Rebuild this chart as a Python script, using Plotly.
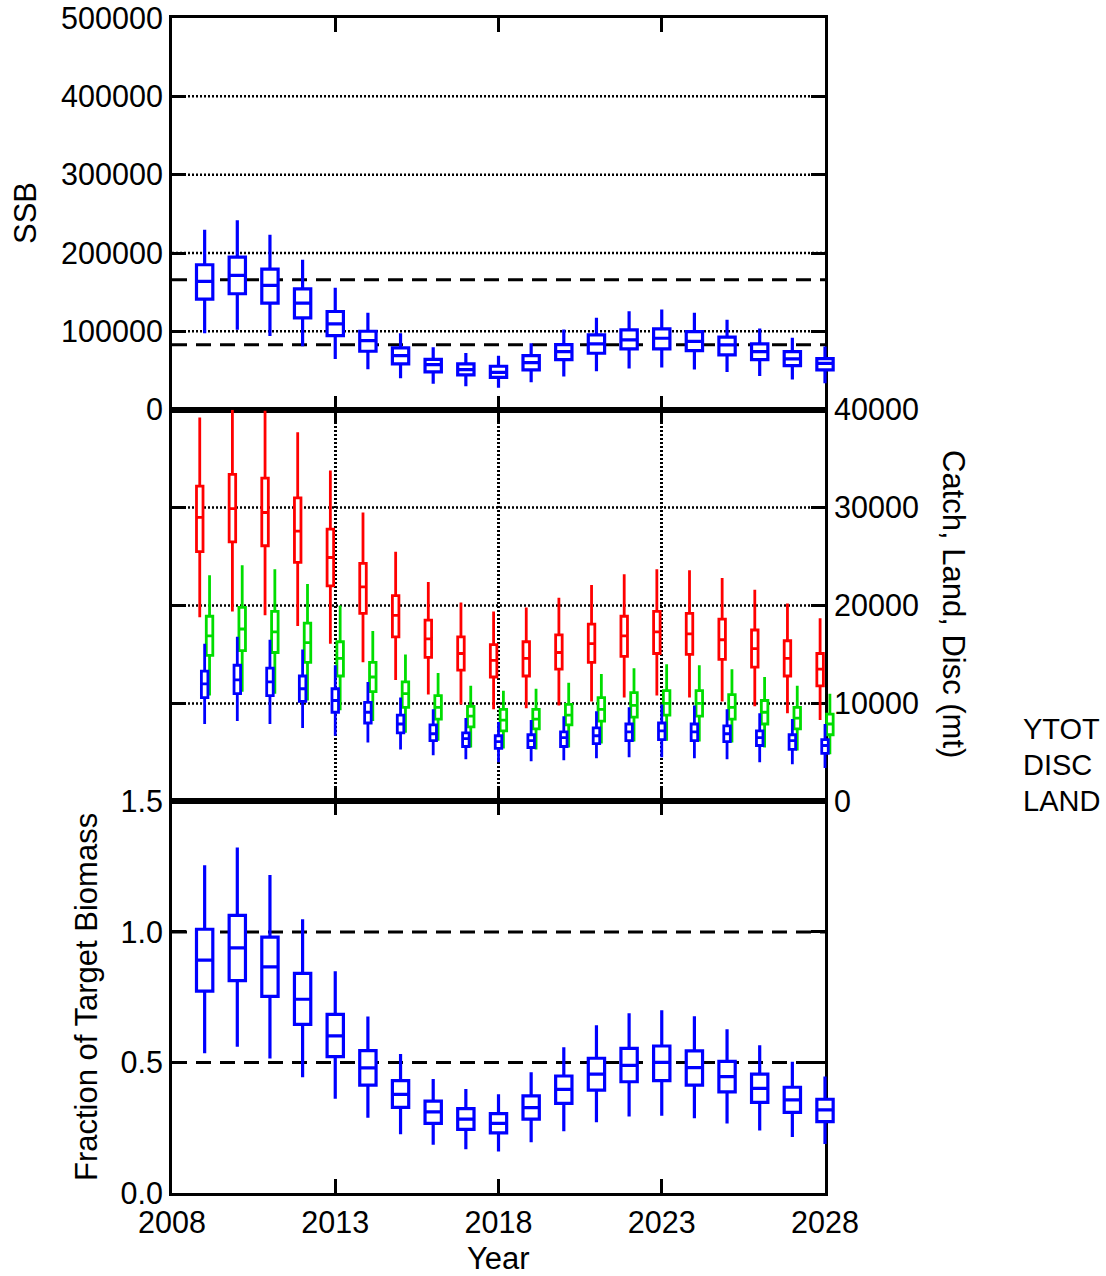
import plotly.graph_objects as go

# Projection years
years = list(range(2009, 2029))

# Spawning stock biomass (mt): whisker low, Q1, median, Q3, whisker high
ssb_lo = [97600, 101900, 94200, 80900, 64800, 51500, 40000, 33200, 29800, 28100,
          34900, 42200, 49000, 52400, 53700, 51200, 48200, 43100, 38400, 33600]
ssb_q1 = [141000, 148000, 135900, 117300, 94600, 74600, 58400, 48200, 44400, 41300,
          50700, 63900, 72000, 77600, 77600, 75400, 69900, 63900, 56300, 50700]
ssb_med = [163700, 171400, 158600, 135900, 109600, 88200, 69100, 57500, 51200, 47700,
           60100, 74200, 84000, 89100, 91200, 87300, 82700, 74200, 64800, 59200]
ssb_q3 = [185000, 194800, 179400, 154300, 125300, 100100, 78900, 64300, 58400, 55400,
          69100, 83100, 95500, 101900, 103200, 99700, 92500, 84000, 74200, 65200]
ssb_hi = [229800, 241700, 223400, 191400, 155600, 123600, 97600, 79700, 72500, 68700,
          84800, 102300, 117300, 125700, 127900, 123600, 114700, 103600, 91700, 80600]
ssb_refs = [166000, 83000]

# Total catch (YTOT)
ytot_lo = [18800, 19400, 19000, 17900, 16100, 14200, 12400, 10900, 9900, 9400,
           9500, 9800, 10200, 10600, 10800, 10600, 10200, 9700, 9000, 8300]
ytot_q1 = [25500, 26500, 26100, 24400, 22000, 19200, 16800, 14700, 13400, 12700,
           12800, 13500, 14200, 14800, 15100, 15000, 14500, 13700, 12800, 11800]
ytot_med = [29000, 29900, 29500, 27600, 24900, 21900, 19000, 16600, 15100, 14400,
            14600, 15200, 16100, 16900, 17300, 17100, 16500, 15600, 14600, 13500]
ytot_q3 = [32200, 33400, 33000, 31000, 27800, 24300, 21000, 18500, 16800, 16000,
           16300, 17000, 18100, 18900, 19400, 19200, 18600, 17500, 16400, 15100]
ytot_hi = [39200, 40000, 39900, 37700, 33800, 29500, 25500, 22400, 20300, 19400,
           19800, 20800, 22100, 23200, 23700, 23600, 22800, 21600, 20200, 18700]

# Discards (DISC)
disc_lo = [7900, 8200, 7900, 7500, 6700, 6000, 5300, 4700, 4300, 4000,
           4100, 4200, 4400, 4500, 4500, 4400, 4300, 4000, 3800, 3400]
disc_q1 = [10600, 11000, 10800, 10200, 9100, 8000, 7000, 6200, 5600, 5400,
           5500, 5600, 5900, 6200, 6300, 6200, 6100, 5700, 5300, 4900]
disc_med = [12000, 12400, 12200, 11500, 10300, 9100, 7900, 6900, 6400, 6100,
            6200, 6500, 6700, 7100, 7200, 7100, 6900, 6500, 6200, 5700]
disc_q3 = [13300, 13900, 13600, 12800, 11500, 10100, 8800, 7800, 7000, 6700,
           6800, 7100, 7500, 7900, 8000, 7900, 7700, 7200, 6800, 6300]
disc_hi = [16100, 16800, 16500, 15500, 13900, 12200, 10600, 9400, 8500, 8100,
           8300, 8700, 9200, 9600, 9900, 9800, 9400, 9000, 8400, 7900]

# Landings (LAND)
land_lo = [10800, 11200, 11000, 10300, 9300, 8200, 7000, 6200, 5500, 5400,
           5300, 5500, 5900, 6100, 6200, 6100, 6000, 5500, 5200, 4800]
land_q1 = [14900, 15400, 15200, 14200, 12800, 11200, 9600, 8400, 7600, 7200,
           7400, 7800, 8200, 8600, 8800, 8700, 8400, 7900, 7400, 6800]
land_med = [16900, 17600, 17300, 16200, 14600, 12700, 11000, 9600, 8700, 8300,
            8400, 8800, 9400, 9800, 10000, 10000, 9600, 9100, 8500, 7900]
land_q3 = [18900, 19800, 19400, 18200, 16300, 14200, 12200, 10800, 9700, 9400,
           9400, 9900, 10600, 11100, 11300, 11300, 10900, 10300, 9600, 8900]
land_hi = [23100, 24100, 23700, 22200, 20000, 17400, 15000, 13100, 11800, 11300,
           11500, 12100, 13000, 13600, 14000, 13900, 13500, 12700, 11800, 11000]

# Fraction of target biomass
frac_lo = [0.535, 0.560, 0.515, 0.443, 0.361, 0.288, 0.225, 0.185, 0.168, 0.159,
           0.194, 0.236, 0.271, 0.293, 0.296, 0.286, 0.266, 0.239, 0.214, 0.188]
frac_q1 = [0.773, 0.813, 0.753, 0.646, 0.522, 0.413, 0.328, 0.267, 0.244, 0.230,
           0.283, 0.343, 0.394, 0.426, 0.430, 0.413, 0.387, 0.347, 0.309, 0.273]
frac_med = [0.892, 0.939, 0.866, 0.742, 0.602, 0.479, 0.378, 0.311, 0.283, 0.267,
            0.327, 0.397, 0.455, 0.489, 0.500, 0.480, 0.446, 0.401, 0.357, 0.318]
frac_q3 = [1.010, 1.063, 0.980, 0.841, 0.684, 0.545, 0.430, 0.352, 0.323, 0.304,
           0.372, 0.448, 0.516, 0.554, 0.563, 0.544, 0.504, 0.455, 0.405, 0.359]
frac_hi = [1.255, 1.323, 1.218, 1.048, 0.849, 0.676, 0.532, 0.437, 0.398, 0.378,
           0.462, 0.558, 0.642, 0.688, 0.700, 0.677, 0.627, 0.566, 0.503, 0.446]
frac_refs = [1.0, 0.5]

# Axis ticks
x_ticks = [2008, 2013, 2018, 2023, 2028]
ssb_ticks = [0, 100000, 200000, 300000, 400000, 500000]
catch_ticks = [0, 10000, 20000, 30000, 40000]
frac_ticks = [0.0, 0.5, 1.0, 1.5]
frac_ticklabels = ["0.0", "0.5", "1.0", "1.5"]
legend_labels = ["YTOT", "DISC", "LAND"]
x_range = [2008, 2028]
ssb_range = [0, 500000]
catch_range = [0, 40000]
frac_range = [0, 1.5]

BLUE = "#0000FF"
RED = "#FF0000"
GREEN = "#00DD00"
FONT = "Liberation Sans, Arial, sans-serif"
FS_TICK = 30.5
FS_TITLE = 31
FS_KEY = 29

W, H = 1106, 1276
L, R, T, B = 172, 281, 18, 83      # frame edges in pixels
PAD = 24                            # extra room so boxes at the frame edge stay whole
ML, MR = L - PAD, R - PAD
PW = W - ML - MR
PH = H - T - B

# Frame domain inside the (slightly wider) paper
d0, d1 = PAD / PW, 1 - PAD / PW
yr_per_px = (x_range[1] - x_range[0]) / (PW - 2 * PAD)
box_range = [x_range[0] - PAD * yr_per_px, x_range[1] + PAD * yr_per_px]

dom_top, dom_mid, dom_bot = [2 / 3, 1], [1 / 3, 2 / 3], [0, 1 / 3]

fig = go.Figure()

# Empty traces so each framed panel exists as its own subplot
for xa, ya in (("x", "y"), ("x2", "y2"), ("x3", "y3")):
    fig.add_trace(go.Scatter(x=[None], y=[None], xaxis=xa, yaxis=ya, mode="markers",
                             showlegend=False, hoverinfo="skip"))


def add_box(yref, xs, lo, q1, med, q3, hi, color, width, lw):
    fig.add_trace(go.Box(
        x=xs, lowerfence=lo, q1=q1, median=med, q3=q3, upperfence=hi,
        width=width, whiskerwidth=0, boxpoints=False,
        line=dict(color=color, width=lw), fillcolor="white",
        showlegend=False, hoverinfo="skip", xaxis="x4", yaxis=yref,
    ))


# Boxes sit on hidden axes that share the panels' vertical scales
add_box("y4", years, ssb_lo, ssb_q1, ssb_med, ssb_q3, ssb_hi, BLUE, 0.5, 3.2)

shift = 0.15
add_box("y5", [y - shift for y in years], ytot_lo, ytot_q1, ytot_med, ytot_q3, ytot_hi, RED, 0.2, 2.8)
add_box("y5", [y + shift for y in years], land_lo, land_q1, land_med, land_q3, land_hi, GREEN, 0.2, 2.8)
add_box("y5", years, disc_lo, disc_q1, disc_med, disc_q3, disc_hi, BLUE, 0.2, 2.8)

add_box("y6", years, frac_lo, frac_q1, frac_med, frac_q3, frac_hi, BLUE, 0.5, 3.2)

DOT = dict(color="black", width=2.5, dash="2px,2px")
DASH = dict(color="black", width=3, dash="15px,9px")

# Horizontal dotted grid
for v in ssb_ticks[1:-1]:
    fig.add_shape(type="line", xref="x domain", yref="y", x0=0, x1=1, y0=v, y1=v,
                  line=DOT, layer="below")
for v in catch_ticks[1:-1]:
    fig.add_shape(type="line", xref="x2 domain", yref="y2", x0=0, x1=1, y0=v, y1=v,
                  line=DOT, layer="below")

# Reference levels (dashed)
for v in ssb_refs:
    fig.add_shape(type="line", xref="x domain", yref="y", x0=0, x1=1, y0=v, y1=v,
                  line=DASH, layer="below")
for v in frac_refs:
    fig.add_shape(type="line", xref="x3 domain", yref="y3", x0=0, x1=1, y0=v, y1=v,
                  line=DASH, layer="below")

axis_common = dict(
    showline=True, linewidth=3, linecolor="black", mirror="allticks",
    ticks="inside", ticklen=14, tickwidth=2.5, tickcolor="black",
    tickfont=dict(family=FONT, size=FS_TICK, color="black"), zeroline=False,
    automargin=False, ticklabelstandoff=0, showgrid=False,
)
hidden = dict(visible=False, showgrid=False, zeroline=False, automargin=False)


def xaxis(anchor, labels, with_grid):
    d = dict(domain=[d0, d1], range=x_range, anchor=anchor, tickvals=x_ticks,
             ticktext=[str(v) for v in x_ticks], showticklabels=labels, **axis_common)
    if with_grid:
        d.update(showgrid=True, gridcolor="black", gridwidth=2.5, griddash="2px,2px")
    return d


fig.update_layout(
    width=W, height=H, margin=dict(l=ML, r=MR, t=T, b=B),
    template="none", paper_bgcolor="white", plot_bgcolor="rgba(0,0,0,0)",
    boxmode="overlay", showlegend=False,
    font=dict(family=FONT, size=FS_TICK, color="black"),
    xaxis=xaxis("y", False, False),
    xaxis2=xaxis("y2", False, True),
    xaxis3=xaxis("y3", True, False),
    yaxis=dict(domain=dom_top, range=ssb_range, anchor="x", tickvals=ssb_ticks,
               ticktext=[str(v) for v in ssb_ticks], **axis_common),
    yaxis2=dict(domain=dom_mid, range=catch_range, anchor="x2", side="right",
                tickvals=catch_ticks, ticktext=[str(v) for v in catch_ticks], **axis_common),
    yaxis3=dict(domain=dom_bot, range=frac_range, anchor="x3", tickvals=frac_ticks,
                ticktext=frac_ticklabels, **axis_common),
    xaxis4=dict(domain=[0, 1], range=box_range, anchor="y6", **hidden),
    yaxis4=dict(domain=dom_top, range=ssb_range, anchor="x4", **hidden),
    yaxis5=dict(domain=dom_mid, range=catch_range, anchor="x4", **hidden),
    yaxis6=dict(domain=dom_bot, range=frac_range, anchor="x4", **hidden),
)


def px_x(px):
    return (px - ML) / PW


def px_y(py):
    return (H - B - py) / PH


def label(text, x, y, size, angle=0, anchor="center"):
    fig.add_annotation(text=text, xref="paper", yref="paper", x=px_x(x), y=px_y(y),
                       xanchor=anchor, yanchor="middle", textangle=angle, showarrow=False,
                       font=dict(family=FONT, size=size, color="black"))


label("SSB", 25, 213, FS_TITLE, -90)
label("Fraction of Target Biomass", 87, 997, FS_TITLE, -90)
label("Catch, Land, Disc (mt)", 954, 604, FS_TITLE, 90)
label("Year", 498, 1258, FS_TITLE)
for i, name in enumerate(legend_labels):
    label(name, 1021, 729 + 36 * i, FS_KEY, 0, "left")

fig.write_html("out.html")
